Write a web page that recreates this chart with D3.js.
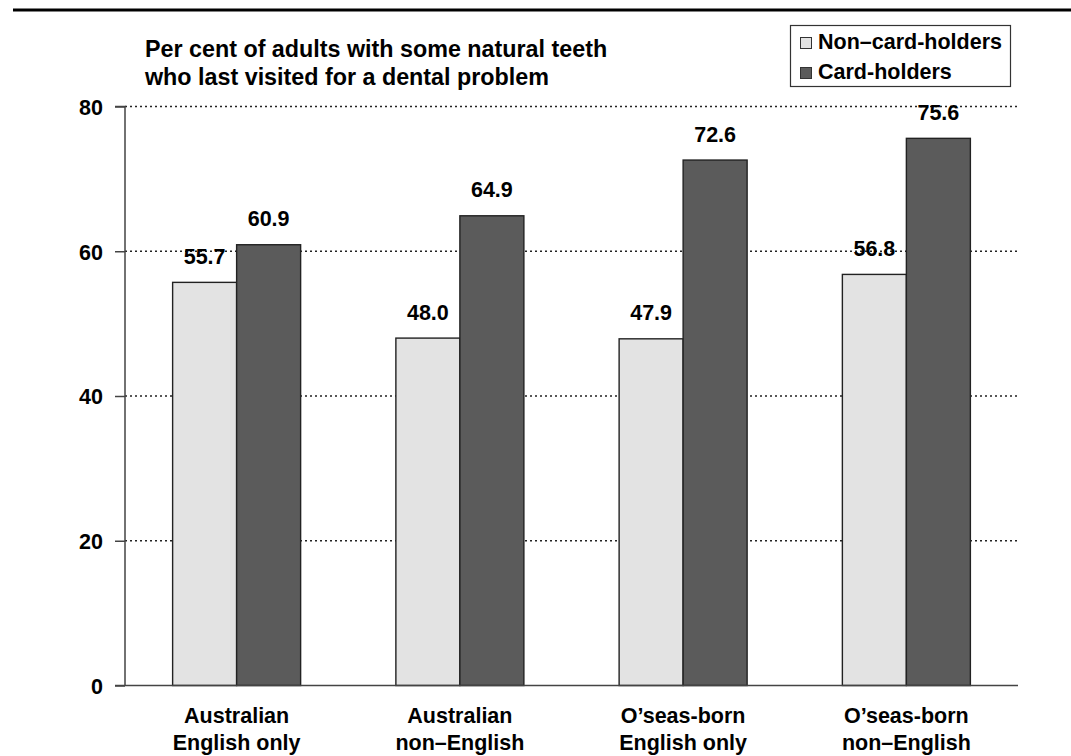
<!DOCTYPE html>
<html><head><meta charset="utf-8">
<script src="https://cdn.jsdelivr.net/npm/d3@7"></script>
<style>
body{margin:0;background:#fff;}
svg{display:block;font-family:"Liberation Sans",Arial,sans-serif;}
</style></head>
<body>
<svg id="c" width="1071" height="756"></svg>
<script>
const categories = [["Australian","English only"],["Australian","non\u2013English"],["O\u2019seas-born","English only"],["O\u2019seas-born","non\u2013English"]];
const seriesNames = ["Non\u2013card-holders","Card-holders"];
const nonCardHolders = [55.7, 48.0, 47.9, 56.8];
const cardHolders = [60.9, 64.9, 72.6, 75.6];
const yTicks = [0, 20, 40, 60, 80];
const titleLines = ["Per cent of adults with some natural teeth","who last visited for a dental problem"];

(function(){
const colors = ["#e3e3e3", "#5b5b5b"];
const svg = d3.select("#c");
const pL = 125, pR = 1018, pT = 106.5, pB = 685.5;
const fs = 21.5;

// top rule
svg.append("line").attr("x1",13).attr("x2",1071).attr("y1",10).attr("y2",10)
  .attr("stroke","#000").attr("stroke-width",3);

const x0 = d3.scaleBand().domain(d3.range(categories.length)).range([pL,pR]).paddingInner(0).paddingOuter(0);
const y = d3.scaleLinear().domain([0,80]).range([pB,pT]);
const bw = 64;
const x1 = d3.scaleBand().domain([0,1]).range([-bw, bw]);

// gridlines
svg.append("g").selectAll("line").data(yTicks.filter(t=>t>0)).join("line")
  .attr("x1",pL).attr("x2",pR).attr("y1",d=>y(d)).attr("y2",d=>y(d))
  .attr("stroke","#222").attr("stroke-width",1.6).attr("stroke-dasharray","2,3");

// y axis
const yAxis = d3.axisLeft(y).tickValues(yTicks).tickSize(10).tickPadding(12).tickFormat(d3.format("d"));
const gy = svg.append("g").attr("transform",`translate(${pL},0)`).call(yAxis);
gy.select(".domain").attr("stroke","#444").attr("stroke-width",1.5).attr("d",`M-10,${pT}H0V${pB}`);
gy.selectAll(".tick line").attr("stroke","#444").attr("stroke-width",1.5);
gy.selectAll(".tick text").attr("font-size",fs).attr("font-weight","bold").attr("fill","#000")
  .attr("font-family","Liberation Sans, Arial, sans-serif").attr("dy","0.36em");

// bars
const data = categories.map((c,i)=>({i, vals:[nonCardHolders[i], cardHolders[i]]}));
const groups = svg.append("g").selectAll("g").data(data).join("g")
  .attr("transform",d=>`translate(${x0(d.i)+x0.bandwidth()/2},0)`);
groups.selectAll("rect").data(d=>d.vals.map((v,k)=>({v,k}))).join("rect")
  .attr("x",d=>x1(d.k)).attr("width",x1.bandwidth())
  .attr("y",d=>y(d.v)).attr("height",d=>y(0)-y(d.v))
  .attr("fill",d=>colors[d.k]).attr("stroke","#222").attr("stroke-width",1.4);
groups.selectAll("text.val").data(d=>d.vals.map((v,k)=>({v,k}))).join("text")
  .attr("class","val")
  .attr("x",d=>x1(d.k)+x1.bandwidth()/2).attr("y",d=>y(d.v)-18.5)
  .attr("text-anchor","middle").attr("font-size",fs).attr("font-weight","bold")
  .text(d=>d3.format(".1f")(d.v));

// x axis line
svg.append("line").attr("x1",115).attr("x2",pR).attr("y1",pB).attr("y2",pB)
  .attr("stroke","#444").attr("stroke-width",1.5);

// x labels
groups.append("text").attr("text-anchor","middle").attr("font-size",fs).attr("font-weight","bold")
  .selectAll("tspan").data(d=>categories[d.i]).join("tspan")
  .attr("x",0).attr("y",(d,k)=>723+k*27).text(d=>d);

// title
svg.append("text").attr("font-size",23.3).attr("font-weight","bold")
  .selectAll("tspan").data(titleLines).join("tspan")
  .attr("x",145).attr("y",(d,k)=>56.5+k*28.5).text(d=>d);

// legend
const lg = svg.append("g");
lg.append("rect").attr("x",790.5).attr("y",25.5).attr("width",220).attr("height",61)
  .attr("fill","#fff").attr("stroke","#333").attr("stroke-width",1.2);
const li = lg.selectAll("g").data(seriesNames).join("g")
  .attr("transform",(d,k)=>`translate(0,${k*30})`);
li.append("rect").attr("x",800.5).attr("y",37.5).attr("width",11).attr("height",11)
  .attr("fill",(d,k)=>colors[k]).attr("stroke","#333").attr("stroke-width",1);
li.append("text").attr("x",818).attr("y",48.5).attr("font-size",fs).attr("font-weight","bold").text(d=>d);
})();
</script>
</body></html>
